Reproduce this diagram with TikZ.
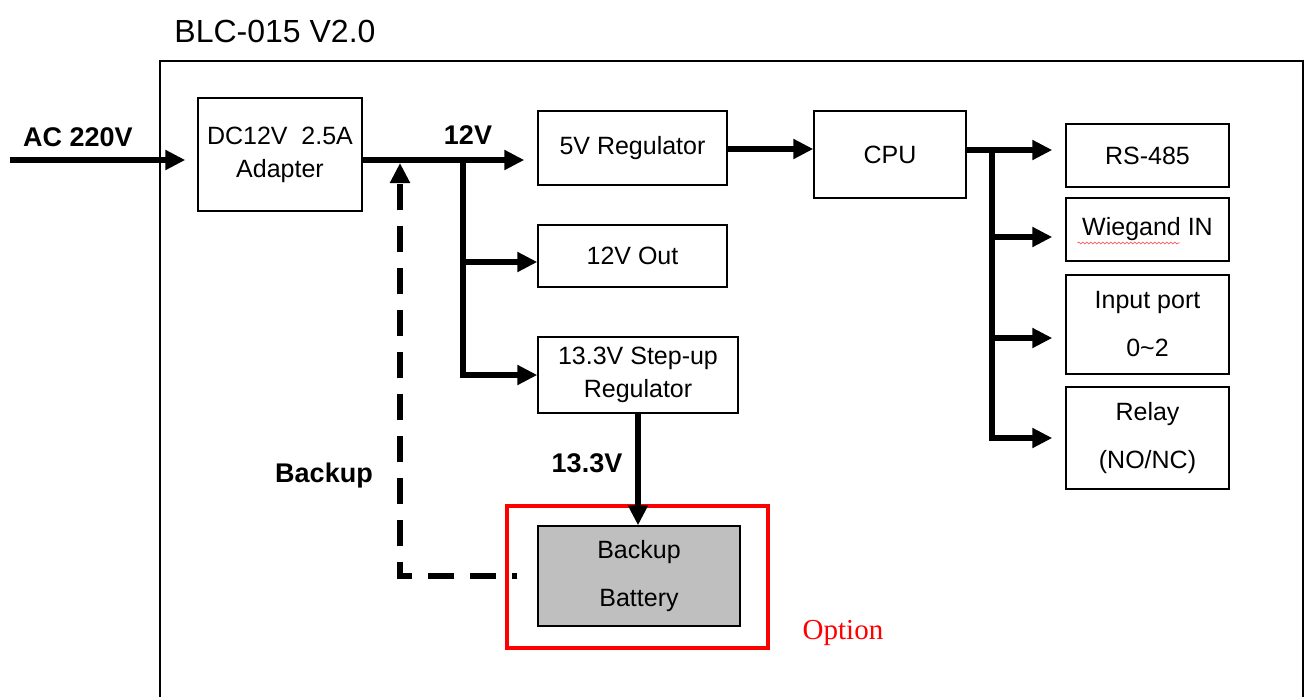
\documentclass[tikz,border=0pt]{standalone}
\usepackage{fontspec}
\setmainfont{Liberation Sans}
\newfontfamily\optfont{Liberation Serif}
\usetikzlibrary{arrows.meta,decorations.pathmorphing}
\begin{document}
\begin{tikzpicture}[x=1pt,y=-1pt]
\tikzset{
 box/.style={draw, line width=1.4pt, inner sep=0pt, align=center, font=\fontsize{25}{33}\selectfont},
 widebox/.style={box, font=\fontsize{25}{48}\selectfont},
 wire/.style={line width=5.5pt},
 arr/.style={wire, -{Triangle[length=20pt,width=19pt]}},
 lbl/.style={font=\fontsize{27}{30}\selectfont\bfseries, inner sep=0pt},
}
\useasboundingbox[fill=white] (0,0) rectangle (1309,697);
% frame
\coordinate (f1) at (160,697);
\coordinate (f2) at (160,61);
\coordinate (f3) at (1303,61);
\coordinate (f4) at (1303,697);
\draw[line width=2pt] (f1) -- (f2) -- (f3) -- (f4);
\node[inner sep=0pt, font=\fontsize{32}{34}\selectfont] (title) at (275,31) {BLC-015 V2.0};

% boxes
\node[box, minimum width=164pt, minimum height=113pt] (adapter) at (280,154.5) {DC12V\ \ 2.5A\\Adapter};
\node[box, minimum width=189pt, minimum height=74pt] (reg5) at (632.5,148) {\raisebox{-3pt}{5V Regulator}};
\node[box, minimum width=152pt, minimum height=87pt] (cpu) at (890,154.5) {CPU};
\node[box, minimum width=189pt, minimum height=62pt] (out12) at (632.5,256) {12V Out};
\node[box, minimum width=200pt, minimum height=76pt] (stepup) at (638,375) {13.3V Step-up\\Regulator};
\node[draw=red, line width=4.5pt, minimum width=261pt, minimum height=142pt] (opt) at (637.5,577) {};
\node[widebox, fill=black!25, minimum width=202pt, minimum height=100pt] (batt) at (639,576) {Backup\\Battery};
\node[box, minimum width=163pt, minimum height=63pt] (rs) at (1147.5,155.5) {RS-485};
\node[box, minimum width=163pt, minimum height=63pt] (wg) at (1147.5,229.5) {Wiegand IN};
\node[widebox, minimum width=163pt, minimum height=99pt] (inp) at (1147.5,324.5) {Input port\\0\char"007E 2};
\node[widebox, minimum width=163pt, minimum height=102pt] (relay) at (1147.5,438) {Relay\\(NO/NC)};
\draw[red!75, line width=0.6pt, decorate, decoration={snake, amplitude=1pt, segment length=4pt}]
  ([shift={(-70,13.5)}]wg.center) -- ([shift={(32,13.5)}]wg.center);

% labels
\node[lbl] (ac) at (78,137) {AC 220V};
\node[lbl] (v12) at (468,135) {12V};
\node[lbl] (v133) at (587,463) {13.3V};
\node[lbl] (bklbl) at (324,476) {Backup};
\node[inner sep=0pt, text=red, font=\optfont\fontsize{29}{32}\selectfont] (optlbl) at (843,633) {Option};

% connectors
\coordinate (acin) at (10,160);
\draw[arr, shorten >=12pt] (acin) -- (acin -| adapter.west);
\coordinate (a12) at (362,160);
\draw[arr, shorten >=13pt] (a12) -- (a12 -| reg5.west);
\coordinate (j1) at (463,160);
\draw[arr] (j1) |- ([yshift=0pt]stepup.west);
\coordinate (j2) at (463,262);
\draw[arr] (j2) -- (j2 -| out12.west);
\coordinate (r5) at (727,149);
\draw[arr] (r5) -- (r5 -| cpu.west);
\draw[arr] (stepup.south) -- (stepup.south |- batt.north);
\coordinate (c0) at (966,150);
\draw[arr, shorten >=13pt] (c0) -- (c0 -| rs.west);
\coordinate (c1) at (992,150);
\coordinate (c2) at (992,237);
\coordinate (c3) at (992,338);
\draw[arr, shorten >=13pt] (c1) |- (relay.west);
\draw[arr, shorten >=13pt] (c2) -- (c2 -| wg.west);
\draw[arr, shorten >=13pt] (c3) -- (c3 -| inp.west);
% backup dashed
\coordinate (bk) at (400,160);
\draw[wire, dash pattern=on 26pt off 16pt, dash phase=21pt, -{Triangle[length=20pt,width=19pt]}, shorten >=3pt]
  ([xshift=-20pt]batt.west) -| (bk);
\end{tikzpicture}
\end{document}
